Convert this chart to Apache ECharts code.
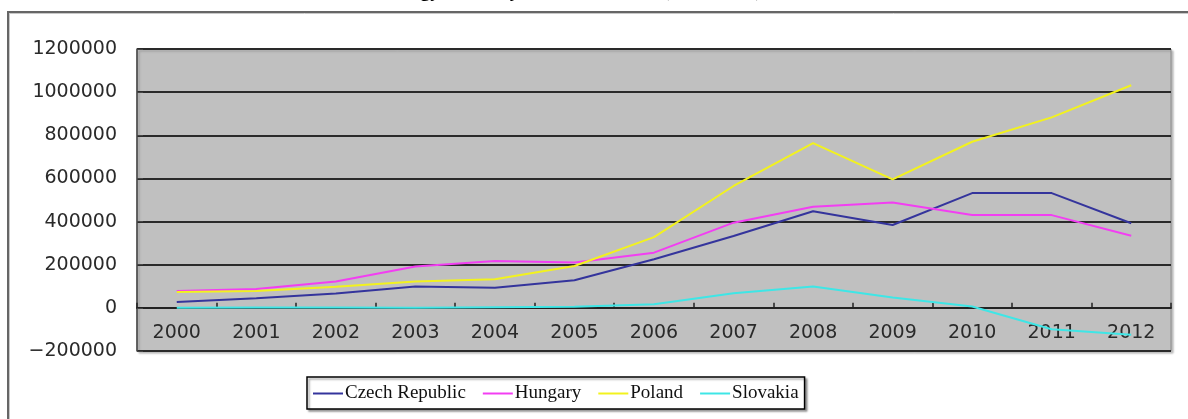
<!DOCTYPE html>
<html>
<head>
<meta charset="utf-8">
<script src="https://cdn.jsdelivr.net/npm/echarts@6/dist/echarts.min.js"></script>
<style>
html,body{margin:0;padding:0;background:#fff;}
#chart{width:1188px;height:419px;}
</style>
</head>
<body>
<div id="chart"></div>
<script>
const years = ['2000','2001','2002','2003','2004','2005','2006','2007','2008','2009','2010','2011','2012'];
const czech = [27000, 45000, 67000, 99000, 93000, 128000, 225000, 333000, 448000, 384000, 532000, 532000, 392000];
const hungary = [78000, 87000, 122000, 192000, 217000, 210000, 256000, 395000, 469000, 488000, 430000, 430000, 334000];
const poland = [74000, 78000, 98000, 122000, 133000, 194000, 328000, 565000, 764000, 596000, 770000, 883000, 1032000];
const slovakia = [1000, 1500, 2000, 500, 3000, 5000, 17000, 68000, 99000, 48000, 6000, -99000, -125000];
const seriesNames = ['Czech Republic','Hungary','Poland','Slovakia'];
const seriesColors = ['#34349c','#f23ef2','#f2f21e','#3ee6e6'];
const titleText = 'Energy Industry OFDI of the V4 (2000-2012)';

const chart = echarts.init(document.getElementById('chart'));
const values = [czech, hungary, poland, slovakia];
chart.setOption({
  animation: false,
  backgroundColor: '#fff',
  title: {
    text: titleText,
    left: 378, top: -19, padding: 0,
    textStyle: {fontFamily: 'Liberation Serif', fontWeight: 'bold', fontSize: 20, color: '#000', lineHeight: 20}
  },
  graphic: [
    {type: 'line', shape: {x1: 8, y1: 12, x2: 1188, y2: 12}, style: {stroke: '#666', lineWidth: 2}},
    {type: 'line', shape: {x1: 10, y1: 13.5, x2: 1188, y2: 13.5}, style: {stroke: '#c8c8c8', lineWidth: 1}},
    {type: 'line', shape: {x1: 8, y1: 11, x2: 8, y2: 419}, style: {stroke: '#666', lineWidth: 2}},
    {type: 'line', shape: {x1: 9.5, y1: 13, x2: 9.5, y2: 419}, style: {stroke: '#c8c8c8', lineWidth: 1}}
  ],
  legend: {
    left: 307, top: 377,
    padding: [7, 6, 6, 6],
    itemGap: 17,
    itemWidth: 30, itemHeight: 2,
    icon: 'rect',
    borderColor: '#000', borderWidth: 1.5,
    shadowColor: 'rgba(0,0,0,0.35)', shadowBlur: 2, shadowOffsetX: 2, shadowOffsetY: 2,
    backgroundColor: '#fff',
    textStyle: {fontFamily: 'Liberation Serif', fontSize: 19, color: '#111', padding: [0,0,0,-3]},
    data: seriesNames
  },
  grid: {
    left: 137, right: 17, top: 49, bottom: 68,
    show: true, backgroundColor: '#c0c0c0', borderColor: '#8a8a8a', borderWidth: 1,
    shadowColor: 'rgba(0,0,0,0.25)', shadowBlur: 2, shadowOffsetX: 2, shadowOffsetY: 2
  },
  xAxis: {
    type: 'category',
    data: years,
    boundaryGap: true,
    offset: -43.2,
    axisLine: {onZero: false, lineStyle: {color: '#222', width: 2}},
    axisTick: {show: true, inside: true, length: 5, lineStyle: {color: '#222', width: 1.5}},
    axisLabel: {fontFamily: 'DejaVu Sans', fontSize: 19, color: '#2a2a2a', margin: 16},
    splitLine: {show: false}
  },
  yAxis: {
    type: 'value',
    min: -200000, max: 1200000, interval: 200000,
    axisLine: {show: true, lineStyle: {color: '#444', width: 1.5}},
    axisTick: {show: true, inside: true, length: 6, lineStyle: {color: '#444'}},
    axisLabel: {fontFamily: 'DejaVu Sans', fontSize: 19, color: '#2a2a2a', margin: 20,
      formatter: v => (v < 0 ? '\u2212' + Math.abs(v) : String(v))},
    splitLine: {show: true, lineStyle: {color: '#2a2a2a', width: 2}}
  },
  series: values.map((d, i) => ({
    name: seriesNames[i],
    type: 'line',
    data: d,
    symbol: 'none',
    color: seriesColors[i],
    lineStyle: {color: seriesColors[i], width: 2}
  }))
});
</script>
</body>
</html>
